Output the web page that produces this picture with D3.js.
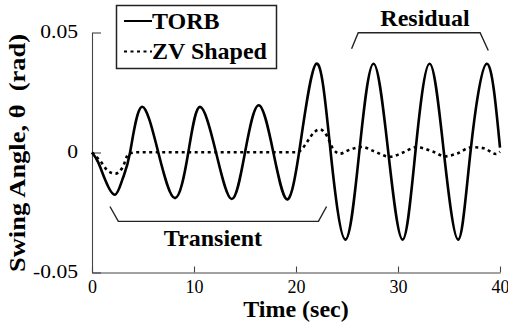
<!DOCTYPE html>
<html>
<head>
<meta charset="utf-8">
<script src="https://cdn.jsdelivr.net/npm/d3@7"></script>
<style>
  html, body { margin: 0; padding: 0; background: #fff; }
  svg { display: block; }
  text { font-family: "Liberation Serif", "Times New Roman", serif; fill: #000; }
</style>
</head>
<body>
<svg id="chart" width="508" height="323"></svg>
<script>
// Swing angle of a suspended load: TORB command vs. ZV-shaped command
const timeTicks = [0, 10, 20, 30, 40];
const angleTicks = [-0.05, 0, 0.05];
const angleTickLabels = ["-0.05", "0", "0.05"];

// [time (s), angle (rad)]
const torb = [
  [0, 0], [0.6, -0.004], [1.3, -0.0115], [2.25, -0.0176], [3.0, -0.011],
  [3.73, 0], [4.87, 0.019], [6.5, 0], [8.14, -0.019], [9.44, 0],
  [10.59, 0.019], [12.16, 0], [13.7, -0.0194], [15.0, 0], [16.35, 0.0197],
  [17.78, 0], [19.05, -0.0194], [20.3, 0], [22.0, 0.037], [23.4, 0],
  [24.85, -0.0363], [26.2, 0], [27.6, 0.037], [29.05, 0], [30.45, -0.0363],
  [31.7, 0], [33.1, 0.037], [34.5, 0], [35.9, -0.0363], [37.1, 0],
  [38.7, 0.037], [40, 0.002]
];

const zvShaped = [
  [0, 0], [0.8, -0.0035], [1.6, -0.0078], [2.3, -0.0088], [3.0, -0.0062],
  [3.6, -0.0005], [4.5, 0.0001], [10, 0.0001], [20.1, 0.0001], [20.6, 0.0015],
  [21.1, 0.0045], [21.8, 0.0085], [22.35, 0.0096], [23.0, 0.0072], [23.6, 0.0018],
  [24.3, -0.0005], [25.3, 0.0012], [26.5, 0.0023], [27.6, 0.0006], [29.2, -0.0018],
  [30.5, 0], [31.8, 0.0022], [33.4, 0.0004], [34.6, -0.0016], [35.8, -0.0004],
  [37.2, 0.0022], [38.4, 0.0018], [39.6, -0.0006], [40, 0.0003]
];

// Bracket annotations, in data units
const residualBracket = [[25.45, 0.0432], [26.1, 0.0499], [38.05, 0.0499], [38.85, 0.0425]];
const transientBracket = [[1.76, -0.0225], [2.58, -0.0287], [22.2, -0.0287], [23.0, -0.0225]];
const residualLabel = { t: 32.65, a: 0.0529, text: "Residual" };
const transientLabel = { t: 11.86, a: -0.0388, text: "Transient" };

const legendItems = [
  { name: "TORB", dash: null },
  { name: "ZV Shaped", dash: "3,3.5" }
];

const svg = d3.select("#chart");
const margin = { left: 92, right: 8, top: 32.5, bottom: 50.5 };
const W = 508, H = 323;

const x = d3.scaleLinear().domain([0, 40]).range([margin.left, W - margin.right]);
const y = d3.scaleLinear().domain([-0.05, 0.05]).range([H - margin.bottom, margin.top]);

// Axes (ticks point into the plot)
const yAxis = d3.axisLeft(y)
  .tickValues(angleTicks)
  .tickFormat((d, i) => angleTickLabels[i])
  .tickSize(-9).tickSizeOuter(0).tickPadding(14);
const xAxis = d3.axisBottom(x)
  .tickValues(timeTicks)
  .tickFormat(d3.format("d"))
  .tickSize(-6).tickSizeOuter(0).tickPadding(8);

const gy = svg.append("g").attr("transform", `translate(${margin.left},0)`).call(yAxis);
const gx = svg.append("g").attr("transform", `translate(0,${H - margin.bottom})`).call(xAxis);
[gx, gy].forEach(g => {
  g.selectAll("path, line").attr("stroke", "#444").attr("stroke-width", 1.1);
  g.selectAll("text").attr("font-size", 18).attr("font-family", "Liberation Serif");
});
// the vertical-axis numbers are set a little wider
gy.selectAll("text").attr("dy", "0.25em").each(function () {
  const len = this.getComputedTextLength();
  d3.select(this).attr("textLength", len * 1.2).attr("lengthAdjust", "spacingAndGlyphs");
});

// Series
const lineNat = d3.line().x(d => x(d[0])).y(d => y(d[1])).curve(d3.curveNatural);
const lineMono = d3.line().x(d => x(d[0])).y(d => y(d[1])).curve(d3.curveMonotoneX);

svg.append("path").datum(zvShaped)
  .attr("d", lineMono).attr("fill", "none")
  .attr("stroke", "#000").attr("stroke-width", 2.6)
  .attr("stroke-dasharray", "3,3.5");

svg.append("path").datum(torb)
  .attr("d", lineNat).attr("fill", "none")
  .attr("stroke", "#000").attr("stroke-width", 2.6)
  .attr("stroke-linejoin", "round");

// Brackets and their labels
const bracketLine = d3.line().x(d => x(d[0])).y(d => y(d[1]));
[residualBracket, transientBracket].forEach(b => {
  svg.append("path").datum(b).attr("d", bracketLine)
    .attr("fill", "none").attr("stroke", "#222").attr("stroke-width", 1.4);
});
[residualLabel, transientLabel].forEach(l => {
  svg.append("text").attr("x", x(l.t)).attr("y", y(l.a))
    .attr("text-anchor", "middle").attr("font-size", 24).attr("font-weight", "bold")
    .text(l.text);
});

// Axis titles
svg.append("text")
  .attr("x", x(20)).attr("y", 316.5)
  .attr("text-anchor", "middle").attr("font-size", 24).attr("font-weight", "bold")
  .text("Time (sec)");
svg.append("text")
  .attr("transform", `translate(25,${y(0) + 0.5}) rotate(-90)`)
  .attr("text-anchor", "middle").attr("font-size", 24).attr("font-weight", "bold")
  .attr("textLength", 238).attr("lengthAdjust", "spacingAndGlyphs")
  .text("Swing Angle, \u03B8\u00A0 (rad)");

// Legend
const lg = svg.append("g");
lg.append("rect").attr("x", 116.5).attr("y", 5.5).attr("width", 160).attr("height", 63)
  .attr("fill", "#fff").attr("stroke", "#222").attr("stroke-width", 1.5);
legendItems.forEach((item, i) => {
  const cy = 21 + i * 30.5;
  lg.append("line").attr("x1", 124).attr("x2", 152).attr("y1", cy).attr("y2", cy)
    .attr("stroke", "#000").attr("stroke-width", 2)
    .attr("stroke-dasharray", item.dash);
  lg.append("text").attr("x", 152).attr("y", cy + 7.5)
    .attr("font-size", 24).attr("font-weight", "bold").text(item.name);
});
</script>
</body>
</html>
